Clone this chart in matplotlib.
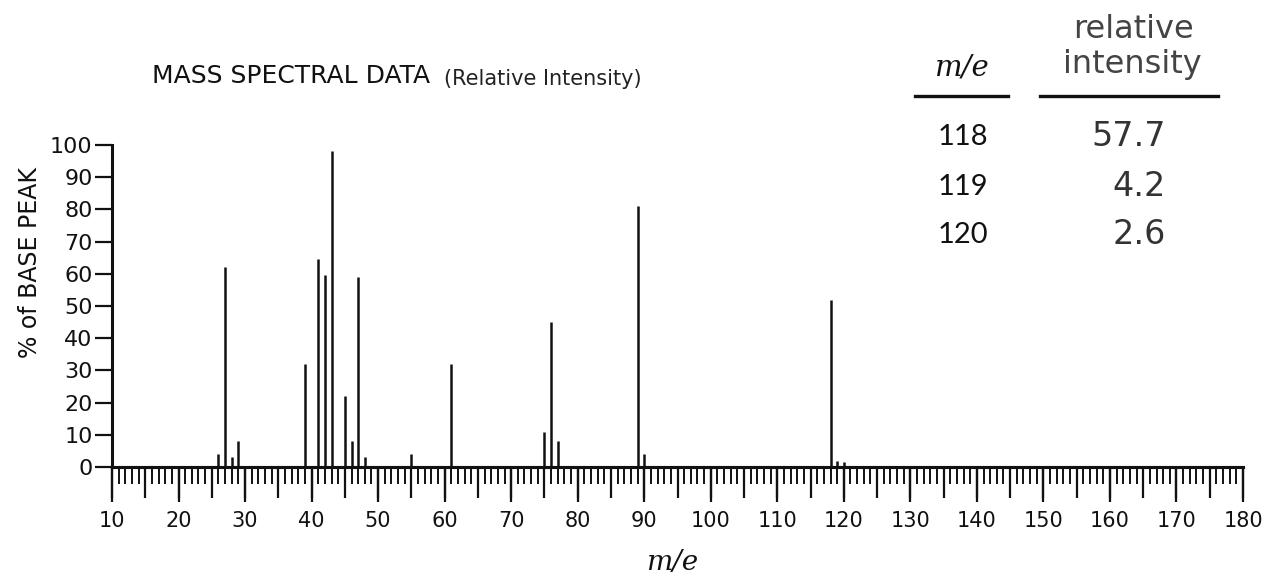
import matplotlib
matplotlib.use("Agg")
import matplotlib.pyplot as plt
from matplotlib.ticker import MultipleLocator, FixedLocator, NullFormatter

# peaks
mz = [26, 27, 28, 29, 39, 41, 42, 43, 45, 46, 47, 48, 55, 61,
      75, 76, 77, 89, 90, 118, 119, 120]
rel = [4, 62, 3, 8, 32, 64.5, 59.5, 98, 22, 8, 59, 3, 4, 32,
       11, 45, 8, 81, 4, 52, 2, 1.5]

# isotope table in the corner
table_mz = [118, 119, 120]
table_int = [57.7, 4.2, 2.6]

plt.rcParams['font.family'] = ['DejaVu Sans']

W, H = 1276, 577
fig = plt.figure(figsize=(W / 100, H / 100), dpi=100)

def fx(px):
    return px / W

def fy(py):
    return 1 - py / H

ax = fig.add_axes([fx(112), fy(467), fx(1243) - fx(112), fy(145) - fy(467)])

ax.vlines(mz, 0, rel, color='#111111', linewidth=1.8, clip_on=False)

ax.set_xlim(10, 180)
ax.set_ylim(0, 100)

for s in ['top', 'right']:
    ax.spines[s].set_visible(False)
for s in ['left', 'bottom']:
    ax.spines[s].set_linewidth(2.2)
    ax.spines[s].set_color('#111111')

# 5-unit ticks on the main axis, 1-unit minor ticks
ax.xaxis.set_major_locator(MultipleLocator(5))
ax.xaxis.set_major_formatter(NullFormatter())
ax.xaxis.set_minor_locator(MultipleLocator(1))
ax.tick_params(axis='x', which='major', direction='out', length=22, width=1.6, color='#111111')
ax.tick_params(axis='x', which='minor', direction='out', length=12, width=1.4, color='#111111')

# longer labelled ticks every 10
sec = ax.secondary_xaxis('bottom')
sec.xaxis.set_major_locator(FixedLocator(list(range(10, 181, 10))))
sec.xaxis.set_minor_locator(FixedLocator([]))
sec.tick_params(axis='x', direction='out', length=25, width=1.6, color='#111111',
                labelsize=15, pad=7, labelcolor='#111111')
sec.spines['bottom'].set_linewidth(2.2)

ax.yaxis.set_major_locator(MultipleLocator(10))
ax.tick_params(axis='y', direction='out', length=12, width=1.6, color='#111111',
               labelsize=16, pad=2, labelcolor='#111111')

fig.text(fx(30), fy(263), '% of BASE PEAK', rotation=90, ha='center', va='center',
         fontsize=17, color='#111111')

fig.text(fx(672), fy(563), 'm/e', ha='center', va='center', fontsize=20,
         family='DejaVu Serif', style='italic', color='#111111')

fig.text(fx(152), fy(76), 'MASS SPECTRAL DATA', ha='left', va='center',
         fontsize=18, color='#111111')
fig.text(fx(444), fy(79), '(Relative Intensity)', ha='left', va='center',
         fontsize=15, color='#222222')

# table
fig.text(fx(962), fy(68), 'm/e', ha='center', va='center', fontsize=21,
         family='DejaVu Serif', style='italic', color='#111111')
fig.text(fx(1133), fy(30), 'relative', ha='center', va='center', fontsize=23, color='#444444')
fig.text(fx(1132), fy(64), 'intensity', ha='center', va='center', fontsize=23, color='#444444')
fig.add_artist(plt.Line2D([fx(915), fx(1008)], [fy(96), fy(96)], color='#111111', linewidth=2.4))
fig.add_artist(plt.Line2D([fx(1040), fx(1218)], [fy(96), fy(96)], color='#111111', linewidth=2.4))

row_y = [137, 187, 235]
for m, v, y in zip(table_mz, table_int, row_y):
    fig.text(fx(963), fy(y), str(m), ha='center', va='center', fontsize=21,
             family='Lato', color='#111111')
    fig.text(fx(1166), fy(y), f'{v:.1f}', ha='right', va='center', fontsize=24,
             color='#333333')

fig.savefig('out.png', dpi=100)
